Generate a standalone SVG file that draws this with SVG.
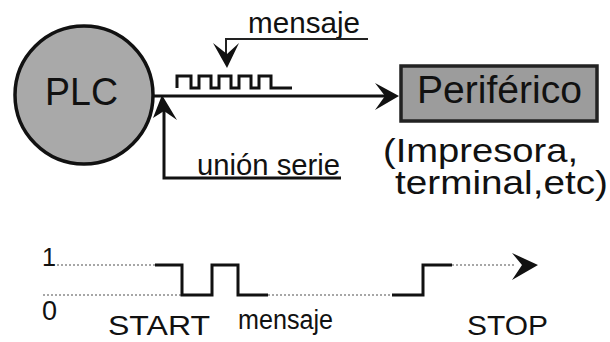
<svg xmlns="http://www.w3.org/2000/svg" width="610" height="342" viewBox="0 0 610 342">
  <style>
    text { font-family: "Liberation Sans", Arial, sans-serif; fill: #111; }
    .wire { fill: none; stroke: #111; stroke-width: 3; stroke-linejoin: miter; }
    .thin { fill: none; stroke: #222; stroke-width: 2; }
    .dots { fill: none; stroke: #8a8a8a; stroke-width: 1.6; stroke-dasharray: 2 2; }
    .head { fill: #111; stroke: none; }
  </style>

  <rect width="610" height="342" fill="#ffffff"/>

  <!-- PLC node -->
  <g id="plc">
    <circle cx="84" cy="95" r="69" fill="#a9a9a9" stroke="#111" stroke-width="3.5"/>
    <text x="45" y="105" font-size="38" textLength="73" lengthAdjust="spacingAndGlyphs">PLC</text>
  </g>

  <!-- Peripheral node -->
  <g id="periferico">
    <rect x="401" y="66" width="196" height="55" fill="#9c9c9c" stroke="#222" stroke-width="3.5"/>
    <text x="417" y="103" font-size="38" textLength="165" lengthAdjust="spacingAndGlyphs">Periférico</text>
  </g>

  <!-- Peripheral examples -->
  <g id="periferico-nota">
    <text x="383" y="162" font-size="33" textLength="195" lengthAdjust="spacingAndGlyphs">(Impresora,</text>
    <text x="395" y="194" font-size="33" textLength="213" lengthAdjust="spacingAndGlyphs">terminal,etc)</text>
  </g>

  <!-- Message label with pointer -->
  <g id="mensaje">
    <text x="248" y="33" font-size="30" textLength="112" lengthAdjust="spacingAndGlyphs">mensaje</text>
    <path class="thin" d="M368,39 H226 V56"/>
    <polygon class="head" points="213,43 227,54 239,43 227,68"/>
  </g>

  <!-- Serial link label -->
  <g id="union-serie">
    <text x="197" y="175" font-size="30" textLength="143" lengthAdjust="spacingAndGlyphs">unión serie</text>
  </g>

  <!-- Connectors -->
  <g id="connectors">
    <!-- PLC to peripheral -->
    <path class="wire" d="M153,96 H388"/>
    <polygon class="head" points="399,96 375,83 385,96 375,110"/>
    <!-- return path of the serial link -->
    <path class="wire" d="M341,178 H164 V110"/>
    <polygon class="head" points="162,95 153,118 164,111 177,120"/>
    <!-- pulse train on the link -->
    <path class="wire" stroke-width="2.5" d="M177,88 V76 H191 V88 H199 V76 H211 V88 H219 V76 H231 V88 H239 V76 H251 V88 H259 V76 H271 V88 H292"/>
  </g>

  <!-- Timing diagram of a serial frame -->
  <g id="cronograma">
    <path class="dots" d="M45,265 H155"/>
    <path class="dots" d="M43,295 H182"/>
    <path class="dots" d="M268,295 H392"/>
    <path class="dots" d="M452,265 H516"/>
    <path class="wire" d="M155,265 H182 V295 H212 V265 H238 V295 H268"/>
    <path class="wire" d="M392,295 H423 V265 H452"/>
    <polygon class="head" points="538,265 512,253 522,265 512,280"/>
    <text x="42" y="266" font-size="25">1</text>
    <text x="42" y="320" font-size="27">0</text>
    <text x="108" y="335" font-size="28" textLength="102" lengthAdjust="spacingAndGlyphs">START</text>
    <text x="238" y="329" font-size="27" textLength="95" lengthAdjust="spacingAndGlyphs">mensaje</text>
    <text x="467" y="335" font-size="28" textLength="81" lengthAdjust="spacingAndGlyphs">STOP</text>
  </g>
</svg>
